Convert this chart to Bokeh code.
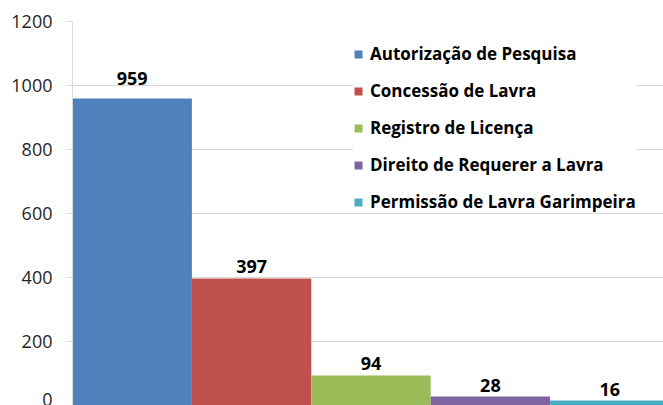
from bokeh.plotting import figure
from bokeh.models import ColumnDataSource, Range1d, Legend, LegendItem
from bokeh.core.properties import value
from bokeh.embed import file_html
from bokeh.resources import INLINE

categories = ["Autorização de Pesquisa", "Concessão de Lavra", "Registro de Licença",
              "Direito de Requerer a Lavra", "Permissão de Lavra Garimpeira"]
values = [959, 397, 94, 28, 16]
colors = ["#4F81BD", "#C0504D", "#9BBB59", "#8064A2", "#4BACC6"]
y_ticks = [0, 200, 400, 600, 800, 1000, 1200]
label_gap_px = [-14, -5, -5, -5, -4]  # styling: pixel shift of each data label above its bar

xs = list(range(len(values)))
src = ColumnDataSource(dict(x=xs, top=values, color=colors, cat=categories,
                            label=[str(v) for v in values], yoff=label_gap_px))

p = figure(width=663, height=405, output_backend="svg", toolbar_location=None,
           x_range=Range1d(-0.5, 4.45), y_range=Range1d(0, 1200),
           min_border_left=72, min_border_top=21, min_border_bottom=0, min_border_right=0)
p.outline_line_color = None
p.background_fill_color = "white"
p.border_fill_color = "white"
p.xaxis.visible = False
p.xgrid.visible = False
p.ygrid.grid_line_color = "#D9D9D9"
p.ygrid.grid_line_width = 1

ya = p.yaxis[0]
ya.ticker = y_ticks
ya.axis_line_color = "#D9D9D9"
ya.major_tick_line_color = "#D9D9D9"
ya.major_tick_out = 7
ya.major_tick_in = 0
ya.minor_tick_line_color = None
ya.major_label_standoff = 13
ya.major_label_text_font = "Open Sans"
ya.major_label_text_font_size = "18px"
ya.major_label_text_color = "#262626"

r = p.vbar(x="x", top="top", width=1.0, bottom=0, fill_color="color", line_color=None, source=src)

p.text(x="x", y="top", text="label", source=src, text_align="center", text_baseline="bottom",
       y_offset="yoff", text_font=value("Open Sans"), text_font_style="bold", text_font_size="18px",
       text_color="#000000")

items = [LegendItem(label=c, renderers=[r], index=i) for i, c in enumerate(categories)]
legend = Legend(items=items, location=(281, 192))
legend.label_text_font = "Open Sans"
legend.label_text_font_style = "bold"
legend.label_text_font_size = "17px"
legend.label_text_color = "#000000"
legend.glyph_width = 10
legend.glyph_height = 10
legend.label_height = 23
legend.label_standoff = 7
legend.spacing = 14
legend.padding = 10
legend.margin = 0
legend.border_line_color = None
legend.background_fill_color = "white"
legend.background_fill_alpha = 1.0
p.add_layout(legend)

open("out.html", "w").write(file_html(p, INLINE))
